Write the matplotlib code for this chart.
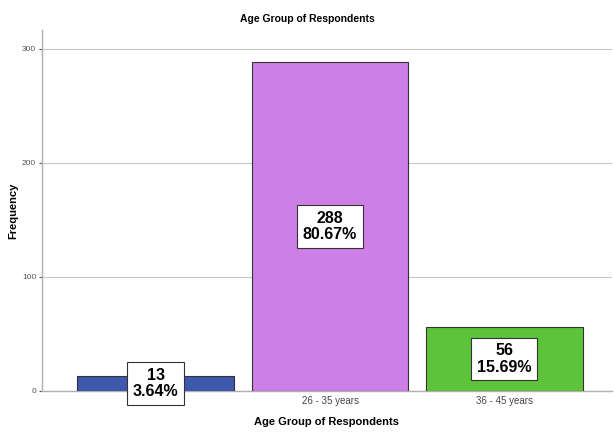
import matplotlib
matplotlib.use("Agg")
import matplotlib.pyplot as plt

categories = ["18 - 25 years", "26 - 35 years", "36 - 45 years"]
counts = [13, 288, 56]
percents = ["3.64%", "80.67%", "15.69%"]
colors = ["#3d59ab", "#cc7fe5", "#5dc33b"]
yticks = [0, 100, 200, 300]

plt.rcParams['font.family'] = ['Liberation Sans', 'DejaVu Sans']
fig = plt.figure(figsize=(6.14, 4.32), dpi=100)
ax = fig.add_axes([0.068, 0.095, 0.929, 0.835])

x = list(range(len(categories)))
ax.bar(x, counts, width=0.9, color=colors, edgecolor="#333333", linewidth=0.8, zorder=3)
for xi, v, p in zip(x, counts, percents):
    ax.text(xi, v / 2, f"{v}\n{p}", ha="center", va="center", fontsize=11.5,
            fontweight="bold", linespacing=1.1, zorder=5,
            bbox=dict(boxstyle="square,pad=0.35", facecolor="white", edgecolor="#333333", linewidth=0.8))

ax.set_xlim(-0.655, 2.62)
ax.set_ylim(0, 316)
ax.set_yticks(yticks)
ax.set_xticks(x)
ax.set_xticklabels(categories)
ax.tick_params(axis="y", labelsize=6, colors="#555555", length=2, width=0.8, pad=2)
ax.tick_params(axis="x", length=0, labelsize=7, colors="#444444")
ax.yaxis.grid(True, color="#c8c8c8", linewidth=0.8, zorder=0)
for s in ["top", "right"]:
    ax.spines[s].set_visible(False)
for s in ["left", "bottom"]:
    ax.spines[s].set_color("#b0b0b0")
    ax.spines[s].set_linewidth(1.0)
ax.set_ylabel("Frequency", fontsize=8, fontweight="bold")
ax.yaxis.set_label_coords(-0.042, 0.5)
ax.set_xlabel("Age Group of Respondents", fontsize=8, fontweight="bold", labelpad=8)
fig.text(0.5, 0.955, "Age Group of Respondents", ha="center", va="center", fontsize=7.5, fontweight="bold")

fig.savefig("out.png", dpi=100)
